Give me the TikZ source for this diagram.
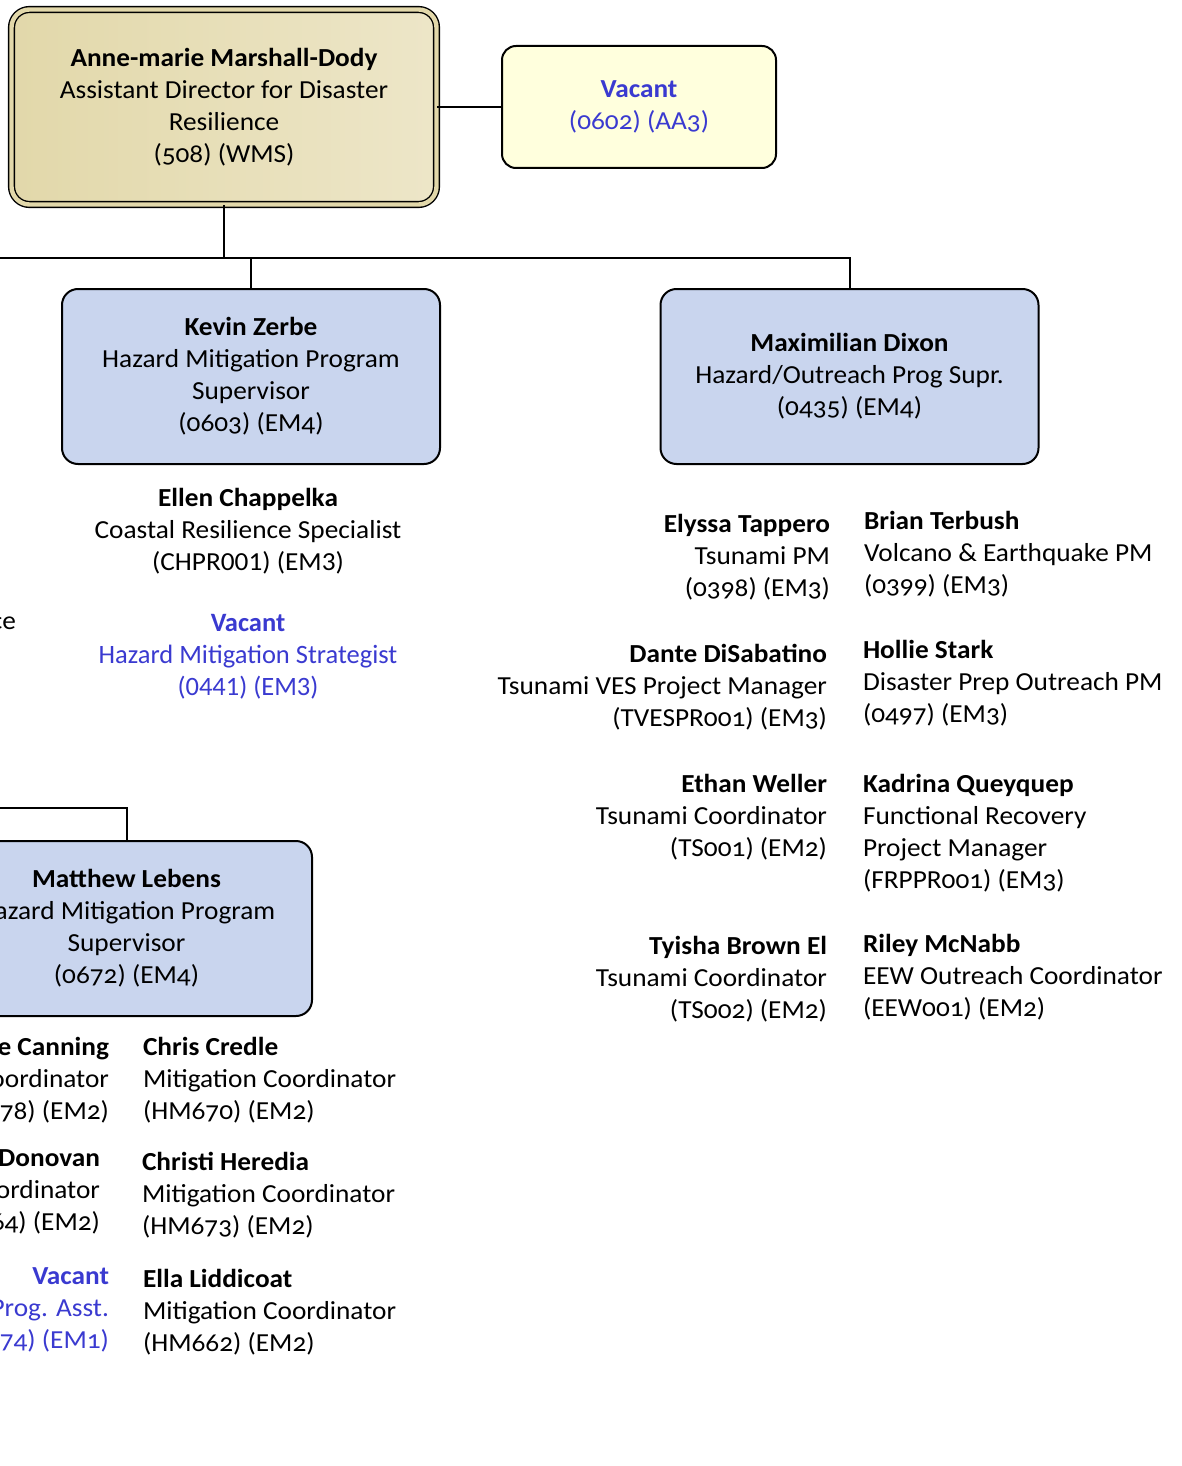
\documentclass[tikz,border=0pt]{standalone}
\usepackage{fontspec}
\setmainfont{Carlito}[Numbers=OldStyle,FakeStretch=1.05]
\newfontfamily\calfont{Carlito}
\newcommand{\lnum}[1]{{\addfontfeature{Numbers=Lining}#1}}
\definecolor{bosstan}{RGB}{226,216,170}
\definecolor{bosslight}{RGB}{237,230,200}
\definecolor{unitblue}{RGB}{201,213,238}
\definecolor{vacyellow}{RGB}{255,255,221}
\definecolor{vacblue}{RGB}{58,58,208}

\begin{document}
\begin{tikzpicture}[x=0.5pt,y=-0.5pt,line width=1pt,
	every node/.style={font=\fontsize{13pt}{16pt}\selectfont,align=center},
	boss/.style={draw,line width=0.7pt,double=bosstan,double distance=2.2pt,rounded corners=9pt,
		left color=bosstan,right color=bosslight,minimum width=212.5pt,minimum height=97.5pt},
	unit/.style={draw,rounded corners=8pt,fill=unitblue,minimum width=189pt,minimum height=87.5pt},
	vacbox/.style={draw,rounded corners=7pt,fill=vacyellow,text=vacblue,minimum width=137pt,minimum height=61pt},
	lft/.style={anchor=east,align=right,inner sep=0pt},
	rgt/.style={anchor=west,align=left,inner sep=0pt}]
	\useasboundingbox (0,0) rectangle (1182,1466);
	% boxes
	\node [boss] (ad) at (224,107) {\textbf{Anne-marie Marshall-Dody}\\Assistant Director for Disaster\\Resilience\\(508) (WMS)};
	\node [vacbox] (vac) at (639,107) {\textbf{Vacant}\\(0602) (AA3)};
	\node [unit] (kz) at (251,376.5) {\textbf{Kevin Zerbe}\\Hazard Mitigation Program\\Supervisor\\(0603) (EM4)};
	\node [unit] (md) at (849.5,376.5) {\textbf{Maximilian Dixon}\\Hazard/Outreach Prog Supr.\\(0435) (EM4)};
	\node [unit,minimum width=185.5pt] (ml) at (126.5,928.5) {\textbf{Matthew Lebens}\\Hazard Mitigation Program\\Supervisor\\(0672) (EM4)};
	% lines
	\coordinate (bus) at (0,258);
	\coordinate (bus2) at (0,808);
	\draw (ad.east) -- (vac.west);
	\draw (ad.south) -- (ad.south |- bus);
	\draw (bus) -| (md.north);
	\draw (kz.north) -- (kz.north |- bus);
	\draw (bus2) -| (ml.north);
	% staff under Zerbe
	\node [inner sep=0pt] (ec) at (248,531) {\textbf{Ellen Chappelka}\\Coastal Resilience Specialist\\\lnum{(CHPR001) (EM3)}};
	\node [inner sep=0pt,text=vacblue,font=\calfont\fontsize{13.25pt}{16pt}\selectfont] (hs1) at (248,657) {\textbf{Vacant}\\Hazard Mitigation Strategist\\(0441) (EM3)};
	\node [lft] (cut1) at (17,623) {ce};
	% staff under Dixon
	\node [lft] (et) at (831,557) {\textbf{Elyssa Tappero}\\Tsunami PM\\(0398) (EM3)};
	\node [lft] (dd) at (828,687) {\textbf{Dante DiSabatino}\\Tsunami VES Project Manager\\(TVESPR001) (EM3)};
	\node [lft] (ew) at (828,817) {\textbf{Ethan Weller}\\Tsunami Coordinator\\(TS001) (EM2)};
	\node [lft] (tb) at (828,979) {\textbf{Tyisha Brown El}\\Tsunami Coordinator\\(TS002) (EM2)};
	\node [rgt] (bt) at (863,554) {\textbf{Brian Terbush}\\Volcano \& Earthquake PM\\(0399) (EM3)};
	\node [rgt] (hst) at (862,683) {\textbf{Hollie Stark}\\Disaster Prep Outreach PM\\(0497) (EM3)};
	\node [rgt] (kq) at (862,833) {\textbf{Kadrina Queyquep}\\Functional Recovery\\Project Manager\\(FRPPR001) (EM3)};
	\node [rgt] (rm) at (862,977) {\textbf{Riley McNabb}\\EEW Outreach Coordinator\\(EEW001) (EM2)};
	% staff under Lebens
	\node [lft] (xc) at (110,1080) {\textbf{e Canning}\\oordinator\\678) (EM2)};
	\node [lft] (xd) at (101,1192) {\textbf{Donovan}\\ordinator\\64) (EM2)};
	\node [lft,text=vacblue] (xv) at (110,1310) {\textbf{Vacant}\\Prog. Asst.\\674) (EM1)};
	\node [rgt] (cc) at (142,1080) {\textbf{Chris Credle}\\Mitigation Coordinator\\(HM670) (EM2)};
	\node [rgt] (ch) at (141,1195) {\textbf{Christi Heredia}\\Mitigation Coordinator\\(HM673) (EM2)};
	\node [rgt] (el) at (142,1312) {\textbf{Ella Liddicoat}\\Mitigation Coordinator\\(HM662) (EM2)};
\end{tikzpicture}
\end{document}
